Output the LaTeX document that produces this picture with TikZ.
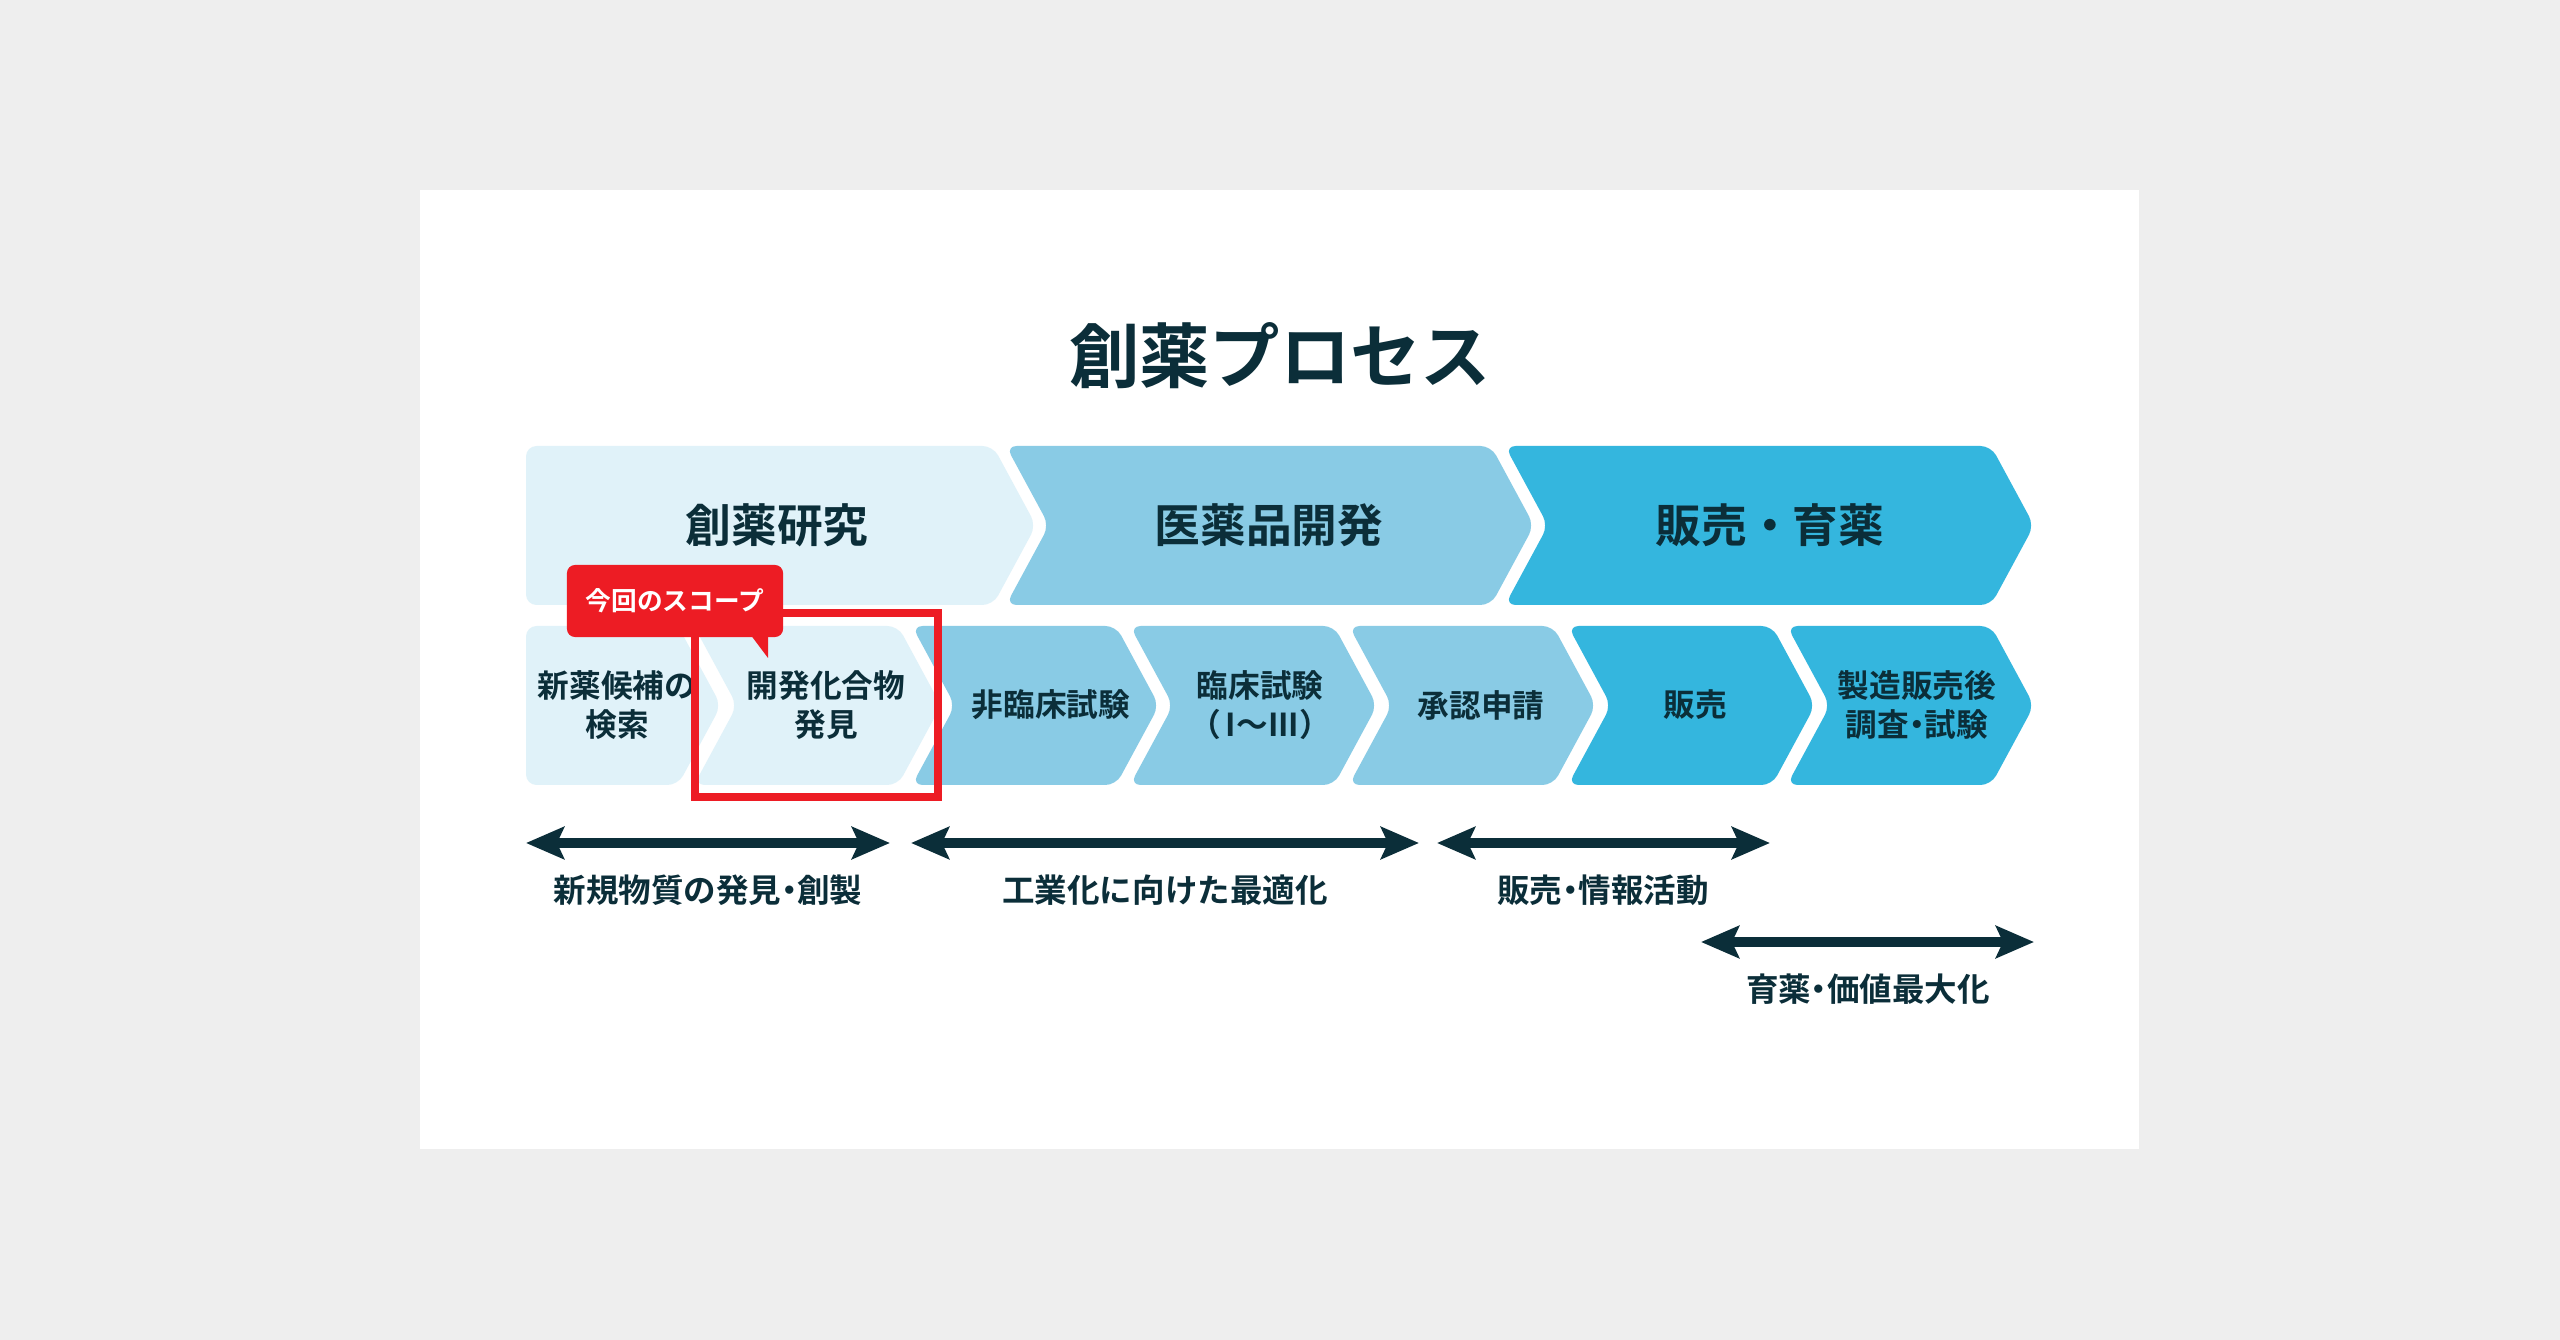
\documentclass[tikz,border=0pt]{standalone}
\usepackage{fontspec}
\setmainfont{Noto Sans CJK JP}[BoldFont={Noto Sans CJK JP Bold}]
\usepackage{tikz}
\usetikzlibrary{positioning,calc}
\usetikzlibrary{arrows.meta}
\definecolor{PaleBlue}{RGB}{224,242,249}
\definecolor{MidBlue}{RGB}{137,203,229}
\definecolor{DeepBlue}{RGB}{52,182,222}
\definecolor{InkTeal}{RGB}{11,46,57}
\definecolor{ScopeRed}{RGB}{237,28,36}
\definecolor{PageGray}{RGB}{238,238,238}
\newcommand{\narrowdot}{\kern-0.25em・\kern-0.25em}
\tikzset{
  stage/.style={rounded corners=3pt},
  stagePale/.style={stage,fill=PaleBlue},
  stageMid/.style={stage,fill=MidBlue},
  stageDeep/.style={stage,fill=DeepBlue},
  headlab/.style={text=InkTeal,inner sep=0pt,font=\bfseries\fontsize{13}{15}\selectfont},
  lab/.style={text=InkTeal,align=center,inner sep=0pt,font=\bfseries\fontsize{9}{11}\selectfont},
  spanlab/.style={lab,font=\bfseries\fontsize{9.25}{11}\selectfont},
}
\tikzset{spanarrow/.style={draw=InkTeal,line width=2.85pt,{Stealth[length=10.8pt,width=9.1pt,inset=2pt]}-{Stealth[length=10.8pt,width=9.1pt,inset=2pt]}}, scopebox/.style={draw=ScopeRed,line width=2pt}, scopetag/.style={fill=ScopeRed,text=white,rounded corners=2.3pt,minimum width=2.16cm,minimum height=0.72cm,inner sep=0pt,font=\bfseries\fontsize{7.3}{9}\selectfont}}

\begin{document}
\begin{tikzpicture}[x=0.01cm,y=-0.01cm]
\fill[PageGray] (0,0) rectangle (2560,1340);
\fill[white] (420,190) rectangle (2139,1149);
\node[text=InkTeal,inner sep=0pt,font=\bfseries\fontsize{20}{24}\selectfont] (title) at (1280,356) {創薬プロセス};
% upper row
\fill[stagePale] (526,446) -- (993,446) -- (1036,525.5) -- (993,605) -- (526,605) -- cycle;
\fill[stageMid] (1006,446) -- (1491,446) -- (1534,525.5) -- (1491,605) -- (1006,605) -- (1049,525.5) -- cycle;
\fill[stageDeep] (1505,446) -- (1991,446) -- (2034,525.5) -- (1991,605) -- (1505,605) -- (1548,525.5) -- cycle;
% lower row
\fill[stagePale] (526,626) -- (678,626) -- (721,705.5) -- (678,785) -- (526,785) -- cycle;
\fill[stagePale] (694,626) -- (898,626) -- (941,705.5) -- (898,785) -- (694,785) -- (737,705.5) -- cycle;
\fill[stageMid] (912,626) -- (1116,626) -- (1159,705.5) -- (1116,785) -- (912,785) -- (955,705.5) -- cycle;
\fill[stageMid] (1130,626) -- (1334,626) -- (1377,705.5) -- (1334,785) -- (1130,785) -- (1173,705.5) -- cycle;
\fill[stageMid] (1349,626) -- (1553,626) -- (1596,705.5) -- (1553,785) -- (1349,785) -- (1392,705.5) -- cycle;
\fill[stageDeep] (1568,626) -- (1772,626) -- (1815,705.5) -- (1772,785) -- (1568,785) -- (1611,705.5) -- cycle;
\fill[stageDeep] (1787,626) -- (1991,626) -- (2034,705.5) -- (1991,785) -- (1787,785) -- (1830,705.5) -- cycle;
\node[headlab] (ph1) at (777,525) {創薬研究};
\node[headlab] (ph2) at (1269,525) {医薬品開発};
\node[headlab] (ph3) at (1770,525) {販売・育薬};
\node[lab] (st1) at (617,705) {新薬候補の\\検索};
\node[lab] (st2) at (826,705) {開発化合物\\発見};
\node[lab] (st3) at (1051,705) {非臨床試験};
\node[lab] (st4) at (1260,705) {臨床試験\\（\,I〜III）};
\node[lab] (st5) at (1481,705) {承認申請};
\node[lab] (st6) at (1695,705) {販売};
\node[lab] (st7) at (1917,705) {製造販売後\\調査\narrowdot 試験};
% scope
\draw[scopebox] (695,613) rectangle (938,797);
\node[scopetag] (scope) at (675,601) {今回のスコープ};
\fill[ScopeRed] (750,634) -- (768,634) -- (768,658) -- cycle;
% spans
\coordinate (a1l) at (526,843);
\coordinate (a1r) at (890,843);
\coordinate (a2l) at (911,843);
\coordinate (a2r) at (1419,843);
\coordinate (a3l) at (1437,843);
\coordinate (a3r) at (1770,843);
\coordinate (a4l) at (1701,942);
\coordinate (a4r) at (2034,942);
\draw[spanarrow] (a1l) -- (a1r);
\draw[spanarrow] (a2l) -- (a2r);
\draw[spanarrow] (a3l) -- (a3r);
\draw[spanarrow] (a4l) -- (a4r);
\node[spanlab] (g1) at (708,890) {新規物質の発見\narrowdot 創製};
\node[spanlab] (g2) at (1165,890) {工業化に向けた最適化};
\node[spanlab] (g3) at (1603,890) {販売\narrowdot 情報活動};
\node[spanlab] (g4) at (1868,989) {育薬\narrowdot 価値最大化};
\end{tikzpicture}
\end{document}
